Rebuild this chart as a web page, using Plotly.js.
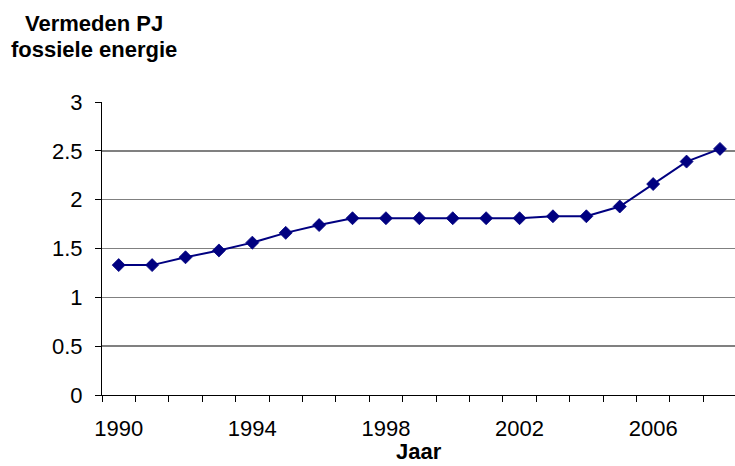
<!DOCTYPE html>
<html>
<head>
<meta charset="utf-8">
<script src="https://cdn.plot.ly/plotly-3.0.1.min.js"></script>
<style>html,body{margin:0;padding:0;background:#fff;}#chart{width:735px;height:466px;}</style>
</head>
<body>
<div id="chart"></div>
<script>
const years = [1990,1991,1992,1993,1994,1995,1996,1997,1998,1999,2000,2001,2002,2003,2004,2005,2006,2007,2008];
const values = [1.33,1.33,1.41,1.48,1.56,1.66,1.74,1.81,1.81,1.81,1.81,1.81,1.81,1.83,1.83,1.93,2.16,2.39,2.52];
const xTickLabels = ['1990','1994','1998','2002','2006'];
const xTickVals = [1990,1994,1998,2002,2006];
const yTickVals = [0,0.5,1,1.5,2,2.5,3];
const yTickLabels = ['0','0.5','1','1.5','2','2.5','3'];
const yTitleLines = ['Vermeden PJ', 'fossiele energie'];
const xTitle = 'Jaar';

const font = 'Liberation Sans, Arial, sans-serif';
const xRange = [1989.5, 2008.45];
const boundaries = years.map(y => y - 0.5).concat([years[years.length - 1] + 0.5]);

const trace = {
  x: years, y: values, type: 'scatter', mode: 'lines+markers',
  line: {color: '#000080', width: 2},
  marker: {symbol: 'diamond', size: 10, color: '#000080', line: {color: '#000080', width: 0.8}},
  hoverinfo: 'skip', showlegend: false
};
const tickTrace = {
  x: [years[0]], y: [values[0]], xaxis: 'x2', yaxis: 'y', type: 'scatter', mode: 'markers',
  marker: {opacity: 0}, hoverinfo: 'skip', showlegend: false
};

const layout = {
  width: 735, height: 466,
  margin: {l: 102, r: 0, t: 102, b: 71},
  paper_bgcolor: '#fff', plot_bgcolor: '#fff',
  font: {family: font, size: 22, color: '#000'},
  xaxis: {
    range: xRange,
    tickmode: 'array', tickvals: xTickVals, ticktext: xTickLabels,
    ticks: '', ticklabelstandoff: 14, showgrid: false, zeroline: false,
    showline: true, linecolor: '#000', linewidth: 1,
    tickfont: {family: font, size: 22, color: '#000'},
    fixedrange: true
  },
  xaxis2: {
    range: xRange, overlaying: 'x', anchor: 'y', side: 'bottom',
    tickmode: 'array', tickvals: boundaries,
    ticks: 'outside', ticklen: 6, tickcolor: '#000', tickwidth: 1,
    showticklabels: false, showgrid: false, zeroline: false, showline: false,
    fixedrange: true
  },
  yaxis: {
    range: [0, 3],
    tickmode: 'array', tickvals: yTickVals, ticktext: yTickLabels,
    ticks: 'outside', ticklen: 6, tickcolor: '#000', tickwidth: 1,
    ticklabelstandoff: 8,
    showgrid: true, gridcolor: '#808080', gridwidth: 1.5,
    zeroline: false, showline: true, linecolor: '#000', linewidth: 1,
    tickfont: {family: font, size: 22, color: '#000'},
    fixedrange: true
  },
  annotations: [
    {text: '<b>' + yTitleLines[0] + '</b>', xref: 'paper', yref: 'paper',
     x: -8/633, y: 1.0, yshift: 79, xanchor: 'center', yanchor: 'middle',
     showarrow: false, font: {family: font, size: 22, color: '#000'}},
    {text: '<b>' + yTitleLines[1] + '</b>', xref: 'paper', yref: 'paper',
     x: -8/633, y: 1.0, yshift: 53, xanchor: 'center', yanchor: 'middle',
     showarrow: false, font: {family: font, size: 22, color: '#000'}},
    {text: '<b>' + xTitle + '</b>', xref: 'paper', yref: 'paper',
     x: 0.5, y: 0, yshift: -56, xanchor: 'center', yanchor: 'middle',
     showarrow: false, font: {family: font, size: 22, color: '#000'}}
  ]
};

Plotly.newPlot('chart', [trace, tickTrace], layout, {displayModeBar: false, staticPlot: true});
</script>
</body>
</html>
